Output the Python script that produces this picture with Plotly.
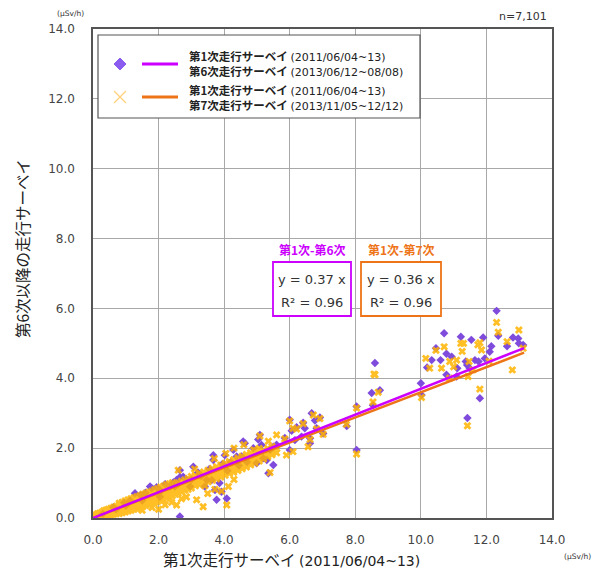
import plotly.graph_objects as go

# ---------------- data ----------------
# 1st survey (x) vs 6th survey (y) : purple diamonds
x6 = [0.30, 0.62, 0.70, 0.95, 1.00, 1.13, 1.28, 1.45, 1.50, 1.60, 1.74, 1.79, 1.94, 2.00, 2.04, 2.04,
      2.20, 2.35, 2.45, 2.50, 2.55, 2.60, 2.65, 2.65, 2.75, 2.85, 2.96, 2.65, 3.00, 3.06, 3.20,
      3.30, 3.41, 3.47, 3.55, 3.62, 3.67, 3.72, 3.77, 3.86, 3.92, 3.67, 4.02, 4.08, 3.95, 4.10,
      4.20, 4.28, 4.38, 4.45, 4.58, 4.53, 4.63, 4.70, 4.89, 4.99, 5.04, 5.09, 5.14, 5.19, 5.30,
      5.35, 5.40, 5.50, 5.50, 5.60, 5.85, 6.00, 6.00, 6.06, 6.16, 6.21, 6.36, 6.41, 6.46, 6.62,
      6.62, 6.67, 6.77, 6.82, 6.92, 7.02, 7.74, 8.04, 8.04, 8.50, 8.54, 8.60, 8.75,
      10.00, 10.02, 10.19, 10.33, 10.46, 10.60, 10.71, 10.78, 10.78, 10.94, 11.09, 11.11, 11.22,
      11.37, 11.41, 11.42, 11.49, 11.54, 11.65, 11.76, 11.80, 11.90, 11.95, 12.10, 12.15, 12.31,
      12.36, 12.63, 12.81, 12.97, 12.99, 13.12]
y6 = [0.12, 0.31, 0.25, 0.44, 0.35, 0.50, 0.71, 0.66, 0.50, 0.72, 0.90, 0.85, 0.88, 0.70, 0.80, 0.61,
      0.97, 0.90, 1.02, 0.90, 1.09, 0.98, 1.37, 1.17, 1.18, 1.10, 0.90, 0.04, 1.10, 1.47, 1.30,
      1.20, 0.90, 1.09, 1.40, 1.09, 1.66, 0.80, 0.52, 1.00, 0.75, 1.80, 1.80, 0.56, 1.55, 1.35,
      1.60, 1.95, 1.76, 1.50, 2.19, 1.76, 2.14, 1.60, 2.00, 1.57, 2.25, 2.38, 2.09, 1.71, 1.66,
      1.28, 1.95, 2.04, 1.52, 2.10, 2.29, 2.81, 1.95, 2.50, 2.23, 2.60, 2.33, 2.73, 2.57, 2.28,
      2.14, 3.00, 2.79, 2.57, 2.88, 2.42, 2.63, 3.19, 1.95, 3.58, 3.23, 4.44, 3.66,
      3.86, 3.52, 4.31, 4.52, 4.86, 4.52, 5.29, 4.70, 4.10, 4.62, 4.05, 4.29, 5.19,
      4.48, 4.38, 2.86, 4.29, 5.10, 4.52, 4.48, 3.43, 5.17, 4.57, 4.76, 4.92, 5.93,
      5.22, 4.92, 5.17, 5.14, 5.00, 4.95]

# 1st survey (x) vs 7th survey (y) : yellow crosses (dense core + scattered points)
x7 = [0.02, 0.02, 0.02, 0.08, 0.08, 0.08, 0.14, 0.14, 0.14, 0.14, 0.20, 0.20, 0.20, 0.20,
      0.26, 0.26, 0.26, 0.26, 0.33, 0.33, 0.33, 0.33, 0.33, 0.40, 0.40, 0.40, 0.40, 0.40,
      0.47, 0.47, 0.47, 0.47, 0.47, 0.55, 0.55, 0.55, 0.55, 0.55, 0.63, 0.63, 0.63, 0.63, 0.63,
      0.71, 0.71, 0.71, 0.71, 0.71, 0.80, 0.80, 0.80, 0.80, 0.80, 0.80,
      0.89, 0.89, 0.89, 0.89, 0.89, 0.89, 0.98, 0.98, 0.98, 0.98, 0.98, 0.98,
      1.07, 1.07, 1.07, 1.07, 1.07, 1.07, 1.16, 1.16, 1.16, 1.16, 1.16, 1.16,
      1.25, 1.25, 1.25, 1.25, 1.25, 1.25, 1.34, 1.34, 1.34, 1.34, 1.34, 1.34,
      1.43, 1.43, 1.43, 1.43, 1.43, 1.43, 1.52, 1.52, 1.52, 1.52, 1.52, 1.52,
      1.61, 1.61, 1.61, 1.61, 1.61, 1.61, 1.70, 1.70, 1.70, 1.70, 1.70, 1.70,
      1.79, 1.79, 1.79, 1.79, 1.79, 1.79, 1.88, 1.88, 1.88, 1.88, 1.88, 1.88,
      1.97, 1.97, 1.97, 1.97, 1.97, 1.97, 2.06, 2.06, 2.06, 2.06, 2.06, 2.06,
      2.15, 2.15, 2.15, 2.15, 2.15, 2.15, 2.24, 2.24, 2.24, 2.24, 2.24, 2.24,
      2.33, 2.33, 2.33, 2.33, 2.33, 2.33, 2.42, 2.42, 2.42, 2.42, 2.42, 2.42,
      2.51, 2.51, 2.51, 2.51, 2.51, 2.60, 2.60, 2.60, 2.60, 2.60,
      2.70, 2.70, 2.70, 2.70, 2.70, 2.80, 2.80, 2.80, 2.80, 2.80,
      2.90, 2.90, 2.90, 2.90, 2.90, 3.00, 3.00, 3.00, 3.00, 3.00,
      3.12, 3.12, 3.12, 3.12, 3.25, 3.25, 3.25, 3.25, 3.38, 3.38, 3.38, 3.38,
      3.51, 3.51, 3.51, 3.51, 3.64, 3.64, 3.64, 3.64, 3.77, 3.77, 3.77, 3.77,
      3.90, 3.90, 3.90, 3.90, 4.03, 4.03, 4.03, 4.03, 4.16, 4.16, 4.16, 4.16,
      4.29, 4.29, 4.29, 4.29, 4.42, 4.42, 4.42, 4.42, 4.55, 4.55, 4.55, 4.55,
      4.68, 4.68, 4.68, 4.68, 4.81, 4.81, 4.81, 4.81, 4.94, 4.94, 4.94, 4.94,
      5.07, 5.07, 5.07, 5.07, 5.20, 5.20, 5.20, 5.33, 5.33, 5.33, 5.46, 5.46, 5.46,
      5.60, 5.60,
      1.50, 1.80, 2.00, 2.20, 2.40, 2.55, 2.60, 2.70, 2.85, 2.96, 3.16, 3.36, 3.41, 3.50,
      3.62, 3.72, 3.92, 4.13, 4.08, 4.30, 3.10, 3.70, 4.05, 4.30, 4.60, 4.90, 5.09, 5.35,
      5.60, 5.85, 5.90, 6.10, 5.40, 6.00, 6.10, 6.21, 6.41, 6.56, 6.62, 6.72, 6.82, 6.92,
      7.02, 7.73, 8.04, 8.04, 8.54, 8.57, 8.60, 8.70,
      10.02, 10.15, 10.27, 10.46, 10.63, 10.71, 10.88, 10.88, 11.00, 11.09, 11.22, 11.26,
      11.30, 11.42, 11.44, 11.47, 11.59, 11.74, 11.80, 11.80, 11.85, 12.08, 12.31, 12.36,
      12.63, 12.79, 12.99, 13.12]
y7 = [0.00, 0.03, 0.06, 0.01, 0.04, 0.08, 0.02, 0.05, 0.09, 0.12, 0.03, 0.07, 0.11, 0.14,
      0.04, 0.08, 0.12, 0.16, 0.05, 0.09, 0.13, 0.17, 0.21, 0.06, 0.10, 0.14, 0.19, 0.23,
      0.08, 0.12, 0.17, 0.21, 0.25, 0.09, 0.14, 0.19, 0.24, 0.28, 0.11, 0.16, 0.21, 0.26, 0.31,
      0.12, 0.18, 0.23, 0.28, 0.34, 0.13, 0.19, 0.25, 0.31, 0.37, 0.42,
      0.15, 0.21, 0.27, 0.33, 0.39, 0.45, 0.17, 0.23, 0.30, 0.36, 0.42, 0.49,
      0.20, 0.26, 0.33, 0.39, 0.45, 0.52, 0.22, 0.29, 0.36, 0.42, 0.48, 0.55,
      0.25, 0.32, 0.38, 0.45, 0.51, 0.58, 0.27, 0.34, 0.41, 0.48, 0.54, 0.61,
      0.30, 0.37, 0.44, 0.51, 0.58, 0.64, 0.33, 0.40, 0.47, 0.54, 0.61, 0.68,
      0.36, 0.43, 0.50, 0.57, 0.64, 0.71, 0.39, 0.46, 0.53, 0.60, 0.67, 0.74,
      0.41, 0.49, 0.56, 0.63, 0.70, 0.77, 0.44, 0.52, 0.59, 0.66, 0.74, 0.81,
      0.47, 0.55, 0.62, 0.70, 0.77, 0.84, 0.50, 0.58, 0.66, 0.73, 0.80, 0.88,
      0.53, 0.61, 0.69, 0.76, 0.84, 0.91, 0.57, 0.65, 0.72, 0.80, 0.87, 0.95,
      0.60, 0.68, 0.76, 0.83, 0.91, 0.98, 0.64, 0.72, 0.79, 0.87, 0.94, 1.01,
      0.68, 0.76, 0.83, 0.90, 0.97, 0.71, 0.79, 0.87, 0.94, 1.01,
      0.75, 0.83, 0.90, 0.98, 1.05, 0.79, 0.87, 0.94, 1.02, 1.09,
      0.82, 0.90, 0.98, 1.06, 1.13, 0.86, 0.95, 1.03, 1.11, 1.19,
      0.92, 1.02, 1.12, 1.22, 0.95, 1.06, 1.17, 1.28, 0.99, 1.10, 1.21, 1.32,
      1.04, 1.15, 1.26, 1.37, 1.08, 1.19, 1.30, 1.42, 1.12, 1.24, 1.35, 1.47,
      1.17, 1.28, 1.40, 1.52, 1.22, 1.33, 1.45, 1.57, 1.27, 1.38, 1.50, 1.62,
      1.31, 1.43, 1.55, 1.67, 1.36, 1.48, 1.60, 1.72, 1.41, 1.53, 1.65, 1.77,
      1.46, 1.58, 1.70, 1.82, 1.52, 1.63, 1.75, 1.87, 1.57, 1.69, 1.81, 1.93,
      1.63, 1.75, 1.87, 1.99, 1.69, 1.81, 1.93, 1.75, 1.87, 1.99, 1.81, 1.93, 2.05,
      1.87, 1.99,
      0.22, 0.30, 0.25, 0.38, 0.45, 0.37, 1.37, 0.55, 0.60, 0.92, 0.52, 0.32, 0.92, 0.70,
      1.12, 0.82, 0.77, 0.90, 0.37, 1.10, 1.40, 1.70, 1.85, 2.00, 2.10, 1.95, 2.35, 2.20,
      2.38, 2.26, 1.80, 1.90, 1.30, 2.78, 2.57, 2.55, 2.70, 2.04, 2.25, 2.95, 2.55, 2.85,
      2.40, 2.68, 3.15, 1.83, 3.32, 4.12, 4.10, 3.60,
      3.45, 4.57, 4.29, 4.80, 4.29, 4.90, 4.48, 4.00, 4.33, 4.52, 5.00, 4.77,
      5.00, 2.64, 4.05, 4.48, 4.24, 4.96, 5.02, 3.69, 4.81, 4.49, 5.60, 5.32,
      5.05, 4.24, 5.38, 4.86]

# regression results shown in the boxes
slope6, r2_6 = 0.37, 0.96
slope7, r2_7 = 0.36, 0.96
fit_x = [0.0, 13.15]

name6 = ["第1次走行サーベイ", "(2011/06/04~13)", "第6次走行サーベイ", "(2013/06/12~08/08)"]
name7 = ["第1次走行サーベイ", "(2011/06/04~13)", "第7次走行サーベイ", "(2013/11/05~12/12)"]
ticks = [0, 2, 4, 6, 8, 10, 12, 14]
tick_text = ["0.0", "2.0", "4.0", "6.0", "8.0", "10.0", "12.0", "14.0"]
n_label = "n=7,101"
unit = "(μSv/h)"
x_title_jp = "第1次走行サーベイ"
x_title_date = "(2011/06/04~13)"
y_title = "第6次以降の走行サーベイ"

# ---------------- styling ----------------
W, H = 596, 574
L, R, T, B = 93, 552, 29, 518
PURPLE = "#7F4BDC"
YELLOW = "#FFB400"
MAGENTA = "#CC00FF"
ORANGE = "#EE7418"
FONT = "Noto Sans CJK JP"
NUMFONT = "DejaVu Sans"

def px(xp):
    return (xp - L) / (R - L)

def py(yp):
    return (B - yp) / (B - T)

fig = go.Figure()
fig.add_trace(go.Scatter(x=x6, y=y6, mode="markers", showlegend=False,
                         marker=dict(symbol="diamond", size=6.5, color=PURPLE,
                                     line=dict(width=0))))
fig.add_trace(go.Scatter(x=x7, y=y7, mode="markers", showlegend=False, opacity=0.85,
                         marker=dict(symbol="x", size=7, color=YELLOW,
                                     line=dict(width=0))))
fig.add_trace(go.Scatter(x=fit_x, y=[slope7 * v for v in fit_x], mode="lines",
                         showlegend=False, line=dict(color=ORANGE, width=2.5)))
fig.add_trace(go.Scatter(x=fit_x, y=[slope6 * v for v in fit_x], mode="lines",
                         showlegend=False, line=dict(color=MAGENTA, width=2.5)))

axis_common = dict(range=[0, 14], tickmode="array", tickvals=ticks, ticktext=tick_text,
                   showgrid=True, gridcolor="#A8A8A8", gridwidth=1, zeroline=False,
                   showline=True, linecolor="#555555", linewidth=1.5, mirror=True,
                   ticks="", tickfont=dict(family=NUMFONT, size=12, color="#444444"))
fig.update_xaxes(**axis_common, ticklabelstandoff=10)
fig.update_yaxes(**axis_common, ticklabelstandoff=14)

shapes = []
ann = []

# legend box
shapes.append(dict(type="rect", xref="paper", yref="paper", x0=px(98), x1=px(420),
                   y0=py(118), y1=py(35), line=dict(color="#555555", width=1.2),
                   fillcolor="white", layer="above"))
# purple diamond glyph
dx, dy = 120, 64
shapes.append(dict(type="path", xref="paper", yref="paper",
                   path=f"M {px(dx-6)} {py(dy)} L {px(dx)} {py(dy-6)} L {px(dx+6)} {py(dy)} L {px(dx)} {py(dy+6)} Z",
                   fillcolor="#8B5CF0", line=dict(color="#8B5CF0", width=1), layer="above"))
shapes.append(dict(type="line", xref="paper", yref="paper", x0=px(142), x1=px(178),
                   y0=py(64), y1=py(64), line=dict(color=MAGENTA, width=3), layer="above"))
# yellow X glyph
cx, cy = 120, 97
for a, b in [(-6, -6), (-6, 6)]:
    shapes.append(dict(type="line", xref="paper", yref="paper", x0=px(cx + a), x1=px(cx - a),
                       y0=py(cy + b), y1=py(cy - b), line=dict(color="#FFD27A", width=1.3),
                       layer="above"))
shapes.append(dict(type="line", xref="paper", yref="paper", x0=px(142), x1=px(178),
                   y0=py(97), y1=py(97), line=dict(color=ORANGE, width=3), layer="above"))

for names, ymid in [(name6, 64), (name7, 97)]:
    txt = (f"<b>{names[0]}</b> <span style='font-family:{NUMFONT};font-size:11px'>{names[1]}</span><br>"
           f"<b>{names[2]}</b> <span style='font-family:{NUMFONT};font-size:11px'>{names[3]}</span>")
    ann.append(dict(xref="paper", yref="paper", x=px(187), y=py(ymid), xanchor="left",
                    yanchor="middle", showarrow=False, align="left", text=txt,
                    font=dict(family=FONT, size=11.5, color="#222222")))

# regression boxes
for (x0, x1, col, title, s, r2) in [(273, 351, MAGENTA, "第1次-第6次", slope6, r2_6),
                                     (361, 441, ORANGE, "第1次-第7次", slope7, r2_7)]:
    shapes.append(dict(type="rect", xref="paper", yref="paper", x0=px(x0), x1=px(x1),
                       y0=py(316), y1=py(262), line=dict(color=col, width=1.8),
                       fillcolor="white", layer="above"))
    cxm = (x0 + x1) / 2
    ann.append(dict(xref="paper", yref="paper", x=px(cxm), y=py(249), showarrow=False,
                    text=f"<b>{title}</b>", font=dict(family=FONT, size=12, color=col),
                    xanchor="center", yanchor="middle"))
    ann.append(dict(xref="paper", yref="paper", x=px(cxm), y=py(279), showarrow=False,
                    text=f"y = {s:.2f} x", font=dict(family=NUMFONT, size=13, color="#333333"),
                    xanchor="center", yanchor="middle"))
    ann.append(dict(xref="paper", yref="paper", x=px(cxm), y=py(302), showarrow=False,
                    text=f"R² = {r2:.2f}", font=dict(family=NUMFONT, size=13, color="#333333"),
                    xanchor="center", yanchor="middle"))

# texts outside the plot
ann.append(dict(xref="paper", yref="paper", x=px(523), y=py(17), showarrow=False,
                text=n_label, font=dict(family=NUMFONT, size=11, color="#333333"),
                xanchor="center", yanchor="middle"))
ann.append(dict(xref="paper", yref="paper", x=px(70), y=py(14), showarrow=False,
                text=unit, font=dict(family=NUMFONT, size=7.5, color="#333333"),
                xanchor="center", yanchor="middle"))
ann.append(dict(xref="paper", yref="paper", x=px(577), y=py(556), showarrow=False,
                text=unit, font=dict(family=NUMFONT, size=7.5, color="#333333"),
                xanchor="center", yanchor="middle"))
ann.append(dict(xref="paper", yref="paper", x=px(291), y=py(559), showarrow=False,
                text=f"{x_title_jp} <span style='font-family:{NUMFONT};font-size:14px'>{x_title_date}</span>",
                font=dict(family=FONT, size=15.5, color="#222222"),
                xanchor="center", yanchor="middle"))
ann.append(dict(xref="paper", yref="paper", x=px(22), y=py(249), showarrow=False,
                text=y_title, textangle=-90, font=dict(family=FONT, size=15.5, color="#222222"),
                xanchor="center", yanchor="middle"))

fig.update_layout(width=W, height=H, margin=dict(l=L, r=W - R, t=T, b=H - B),
                  paper_bgcolor="white", plot_bgcolor="white", shapes=shapes,
                  annotations=ann, font=dict(family=FONT), showlegend=False)

fig.write_html("out.html", config={"displayModeBar": False},
               post_script="document.body.style.margin='0';document.body.style.overflow='hidden';")
